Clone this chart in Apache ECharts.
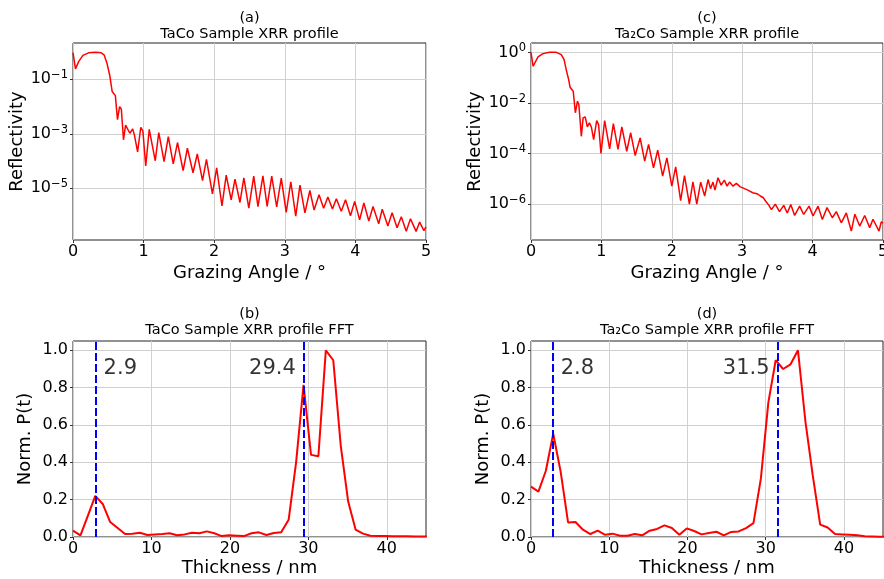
<!DOCTYPE html>
<html><head><meta charset="utf-8">
<script src="https://cdn.jsdelivr.net/npm/echarts@6/dist/echarts.min.js"></script>
<style>html,body{margin:0;padding:0;background:#fff}#c{width:884px;height:579px}</style>
</head><body><div id="c"></div>
<script>
// ---------- data ----------
// (a) TaCo XRR profile: grazing angle (deg) and log10(reflectivity)
const angleA = [0, 0.035, 0.08, 0.14, 0.22, 0.32, 0.40, 0.44, 0.48, 0.52, 0.555, 0.575, 0.60, 0.63, 0.66, 0.685, 0.715, 0.745, 0.77, 0.805, 0.845, 0.87, 0.915, 0.96, 0.99, 1.03, 1.08, 1.165, 1.215, 1.29, 1.35, 1.42, 1.48, 1.56, 1.62, 1.70, 1.76, 1.835, 1.89, 1.975, 2.035, 2.11, 2.17, 2.24, 2.295, 2.365, 2.42, 2.49, 2.56, 2.62, 2.69, 2.75, 2.815, 2.885, 2.95, 3.02, 3.085, 3.155, 3.215, 3.285, 3.355, 3.415, 3.485, 3.55, 3.61, 3.675, 3.73, 3.80, 3.86, 3.93, 3.99, 4.06, 4.12, 4.19, 4.25, 4.33, 4.38, 4.46, 4.52, 4.59, 4.65, 4.72, 4.78, 4.86, 4.91, 4.97, 5.0];
const log10ReflA = [-0.02, -0.62, -0.35, -0.12, -0.03, -0.01, -0.03, -0.10, -0.40, -0.85, -1.45, -1.40, -1.60, -2.48, -2.00, -2.10, -3.22, -2.68, -2.62, -2.98, -2.82, -3.05, -3.66, -2.76, -2.90, -4.18, -2.84, -3.99, -2.96, -4.02, -3.10, -4.10, -3.32, -4.35, -3.53, -4.43, -3.74, -4.72, -3.94, -5.20, -4.25, -5.65, -4.52, -5.42, -4.66, -5.52, -4.62, -5.73, -4.55, -5.67, -4.54, -5.66, -4.55, -5.68, -4.63, -5.88, -4.76, -6.02, -4.88, -5.90, -5.08, -5.80, -5.24, -5.73, -5.32, -5.76, -5.38, -5.84, -5.42, -6.01, -5.48, -6.16, -5.54, -6.20, -5.67, -6.30, -5.77, -6.38, -5.90, -6.45, -6.04, -6.58, -6.12, -6.58, -6.24, -6.55, -6.42];

// (c) Ta2Co XRR profile
const angleC = [0, 0.03, 0.10, 0.17, 0.265, 0.36, 0.43, 0.47, 0.50, 0.535, 0.555, 0.58, 0.60, 0.63, 0.66, 0.68, 0.715, 0.74, 0.77, 0.80, 0.83, 0.857, 0.89, 0.933, 0.96, 0.994, 1.046, 1.117, 1.17, 1.236, 1.29, 1.36, 1.416, 1.48, 1.55, 1.615, 1.67, 1.74, 1.80, 1.87, 1.93, 2.0, 2.055, 2.126, 2.18, 2.25, 2.30, 2.355, 2.41, 2.467, 2.515, 2.55, 2.585, 2.613, 2.656, 2.70, 2.746, 2.784, 2.82, 2.87, 2.917, 2.973, 3.01, 3.08, 3.15, 3.21, 3.258, 3.30, 3.343, 3.38, 3.415, 3.47, 3.53, 3.59, 3.64, 3.69, 3.745, 3.816, 3.873, 3.95, 4.006, 4.077, 4.138, 4.205, 4.28, 4.337, 4.408, 4.479, 4.55, 4.60, 4.669, 4.74, 4.811, 4.858, 4.943, 4.976, 5.0];
const log10ReflC = [0.0, -0.55, -0.18, -0.05, 0.0, 0.0, -0.09, -0.29, -0.68, -1.08, -1.38, -1.37, -1.54, -2.39, -1.93, -2.07, -3.32, -2.59, -2.55, -2.95, -2.79, -2.95, -3.45, -2.70, -2.86, -4.00, -2.70, -3.82, -2.82, -3.84, -2.95, -3.91, -3.18, -4.08, -3.38, -4.30, -3.64, -4.57, -3.87, -4.89, -4.17, -5.29, -4.53, -5.86, -4.87, -6.00, -5.12, -6.00, -5.13, -5.68, -5.03, -5.39, -5.13, -5.45, -4.96, -5.25, -5.05, -5.29, -5.13, -5.29, -5.18, -5.32, -5.36, -5.45, -5.55, -5.59, -5.68, -5.75, -5.92, -6.05, -6.22, -6.00, -6.30, -6.05, -6.35, -6.02, -6.45, -6.08, -6.41, -6.08, -6.47, -6.08, -6.61, -6.14, -6.54, -6.30, -6.74, -6.35, -7.07, -6.40, -6.87, -6.45, -6.93, -6.60, -7.07, -6.70, -6.75];

// (b),(d) FFT: thickness (nm) and normalised P(t)
const thickness = [0, 0.95, 1.9, 2.84, 3.79, 4.74, 5.69, 6.64, 7.58, 8.53, 9.48, 10.43, 11.38, 12.32, 13.27, 14.22, 15.17, 16.12, 17.06, 18.01, 18.96, 19.91, 20.86, 21.8, 22.75, 23.7, 24.65, 25.6, 26.54, 27.49, 28.44, 29.39, 30.34, 31.28, 32.23, 33.18, 34.13, 35.08, 36.02, 36.97, 37.92, 38.87, 39.82, 40.76, 41.71, 42.66, 43.61, 44.56, 45.5];
const fftB = [0.034, 0.009, 0.115, 0.22, 0.177, 0.08, 0.048, 0.016, 0.018, 0.023, 0.011, 0.014, 0.016, 0.02, 0.009, 0.014, 0.023, 0.02, 0.03, 0.02, 0.005, 0.009, 0.007, 0.005, 0.02, 0.025, 0.011, 0.021, 0.025, 0.092, 0.40, 0.815, 0.44, 0.433, 1.0, 0.947, 0.49, 0.19, 0.04, 0.018, 0.007, 0.005, 0.005, 0.004, 0.004, 0.004, 0.003, 0.003, 0.003];
const fftD = [0.27, 0.243, 0.355, 0.553, 0.35, 0.078, 0.08, 0.039, 0.016, 0.034, 0.012, 0.018, 0.007, 0.007, 0.016, 0.009, 0.034, 0.043, 0.062, 0.048, 0.012, 0.046, 0.032, 0.014, 0.021, 0.028, 0.009, 0.027, 0.03, 0.048, 0.074, 0.314, 0.72, 0.947, 0.90, 0.925, 1.0, 0.62, 0.33, 0.066, 0.051, 0.016, 0.014, 0.012, 0.009, 0.004, 0.003, 0.002, 0.002];
const peaksB = [2.9, 29.4];
const peaksD = [2.8, 31.5];

// ticks
const angleTicks = [0, 1, 2, 3, 4, 5];
const reflTicksA = [1e-5, 1e-3, 1e-1];
const reflTicksC = [1e-6, 1e-4, 1e-2, 1];
const thickTicks = [0, 10, 20, 30, 40];
const normTicks = [0, 0.2, 0.4, 0.6, 0.8, 1.0];
const panelTitles = ['(a)\nTaCo Sample XRR profile', '(c)\nTa\u2082Co Sample XRR profile', '(b)\nTaCo Sample XRR profile FFT', '(d)\nTa\u2082Co Sample XRR profile FFT'];

// ---------- chart ----------
const FONT = 'DejaVu Sans';
function supFmt(v) {
  const e = Math.round(Math.log10(v));
  return '{b|10}{s|' + String(e).replace('-', '\u2212') + '}';
}
const grids = [
  {left: 73, top: 43, width: 353, height: 197},
  {left: 531, top: 43, width: 352, height: 197},
  {left: 73, top: 341, width: 353, height: 196},
  {left: 531, top: 341, width: 352, height: 196}
].map(g => Object.assign(g, {show: true, borderColor: '#222', borderWidth: 1, backgroundColor: 'transparent', containLabel: false, outerBoundsMode: 'none'}));

const gridLine = {show: true, lineStyle: {color: '#d0d0d0', width: 1}};
const tickStyle = {show: true, length: 3, inside: false, lineStyle: {color: '#333'}};
function xAx(i, max, ticks, name, gap) {
  return {type: 'value', gridIndex: i, min: 0, max: max,
    axisLine: {show: false},
    axisTick: Object.assign({customValues: ticks}, tickStyle),
    axisLabel: {customValues: ticks, fontSize: 16, color: '#000', fontFamily: FONT, margin: 4},
    splitLine: gridLine,
    name: name, nameLocation: 'middle', nameGap: gap,
    nameTextStyle: {fontSize: 18, color: '#000', fontFamily: FONT}};
}
function yLog(i, lo, hi, ticks, gap) {
  return {type: 'log', logBase: 10, gridIndex: i, min: Math.pow(10, lo), max: Math.pow(10, hi),
    axisLine: {show: false},
    axisTick: Object.assign({customValues: ticks}, tickStyle),
    axisLabel: {customValues: ticks, formatter: supFmt, color: '#000', fontFamily: FONT, margin: 5,
      rich: {
        b: {fontSize: 16, lineHeight: 20, fontFamily: FONT, color: '#000'},
        s: {fontSize: 11.5, lineHeight: 9, verticalAlign: 'top', fontFamily: FONT, color: '#000'}
      }},
    splitLine: gridLine, minorTick: {show: false}, minorSplitLine: {show: false},
    name: 'Reflectivity', nameLocation: 'middle', nameGap: gap,
    nameTextStyle: {fontSize: 18, color: '#000', fontFamily: FONT}};
}
function yLin(i, gap) {
  return {type: 'value', gridIndex: i, min: 0, max: 1.05,
    axisLine: {show: false},
    axisTick: Object.assign({customValues: normTicks}, tickStyle),
    axisLabel: {customValues: normTicks, formatter: v => v.toFixed(1), fontSize: 16, color: '#000', fontFamily: FONT, margin: 5},
    splitLine: gridLine,
    name: 'Norm. P(t)', nameLocation: 'middle', nameGap: gap,
    nameTextStyle: {fontSize: 18, color: '#000', fontFamily: FONT}};
}
const pairsLog = (xs, ls) => xs.map((x, i) => [x, Math.pow(10, ls[i])]);
const pairs = (xs, ys) => xs.map((x, i) => [x, ys[i]]);
function peakSeries(i, peaks) {
  return {type: 'scatter', xAxisIndex: i, yAxisIndex: i, symbolSize: 0, silent: true, z: 5,
    data: [
      {value: [peaks[0] + 1, 0.9], label: {position: 'right', formatter: String(peaks[0])}},
      {value: [peaks[1] - 1, 0.9], label: {position: 'left', formatter: String(peaks[1])}}
    ],
    label: {show: true, distance: 0, fontSize: 21, color: '#000', fontFamily: FONT},
    markLine: {silent: true, symbol: ['none', 'none'], label: {show: false}, animation: false,
      lineStyle: {color: '#0000ff', width: 2, type: [8, 3]},
      data: peaks.map(p => ({xAxis: p}))}
  };
}
const titleX = [249.5, 707, 249.5, 707];
const titleTop = [10, 10, 306, 306];
const option = {
  animation: false,
  textStyle: {fontFamily: FONT},
  title: panelTitles.map((t, i) => ({text: t, left: titleX[i], top: titleTop[i], textAlign: 'center', padding: 0,
    textStyle: {fontSize: 14.5, fontWeight: 'normal', color: '#000', lineHeight: 16, fontFamily: FONT}})),
  grid: grids,
  xAxis: [
    xAx(0, 5, angleTicks, 'Grazing Angle / \u00B0', 24),
    xAx(1, 5, angleTicks, 'Grazing Angle / \u00B0', 24),
    xAx(2, 45, thickTicks, 'Thickness / nm', 22),
    xAx(3, 45, thickTicks, 'Thickness / nm', 22)
  ],
  yAxis: [
    yLog(0, -6.897, 0.332, reflTicksA, 47),
    yLog(1, -7.42, 0.37, reflTicksC, 47),
    yLin(2, 39),
    yLin(3, 39)
  ],
  series: [
    {type: 'line', xAxisIndex: 0, yAxisIndex: 0, data: pairsLog(angleA, log10ReflA), showSymbol: false, lineStyle: {color: '#ff0000', width: 1.5}, clip: true},
    {type: 'line', xAxisIndex: 1, yAxisIndex: 1, data: pairsLog(angleC, log10ReflC), showSymbol: false, lineStyle: {color: '#ff0000', width: 1.5}, clip: true},
    {type: 'line', xAxisIndex: 2, yAxisIndex: 2, data: pairs(thickness, fftB), showSymbol: false, lineStyle: {color: '#ff0000', width: 2}, clip: true},
    {type: 'line', xAxisIndex: 3, yAxisIndex: 3, data: pairs(thickness, fftD), showSymbol: false, lineStyle: {color: '#ff0000', width: 2}, clip: true},
    peakSeries(2, peaksB),
    peakSeries(3, peaksD)
  ]
};
const chart = echarts.init(document.getElementById('c'), null, {renderer: 'canvas'});
chart.setOption(option);
</script>
</body></html>
